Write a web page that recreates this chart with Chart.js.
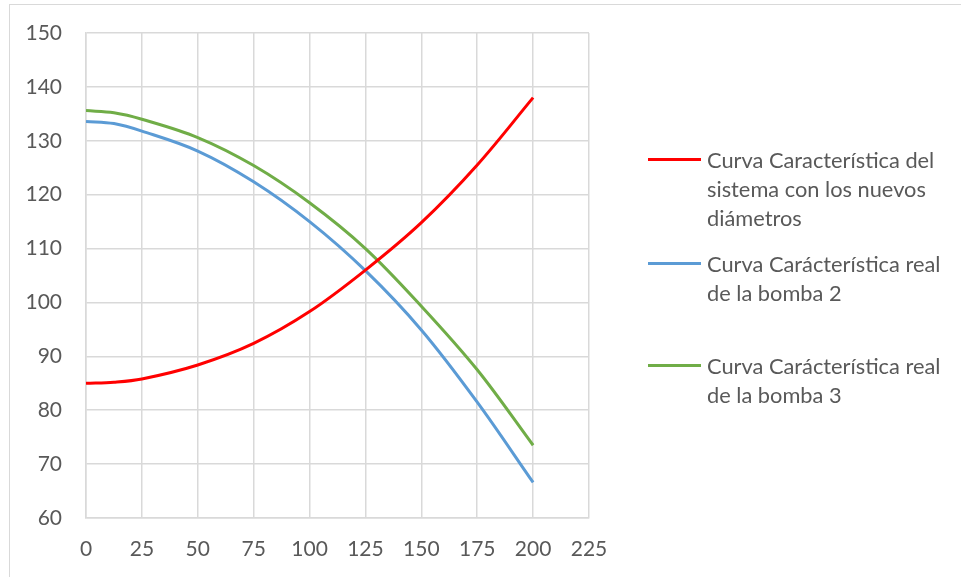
<!DOCTYPE html>
<html>
<head>
<meta charset="utf-8">
<script src="https://cdn.jsdelivr.net/npm/chart.js@4.4.0/dist/chart.umd.min.js"></script>
<style>
    html, body { margin: 0; padding: 0; background: #fff; }
    #wrap { position: relative; width: 961px; height: 577px; overflow: hidden; }
    #frame { position: absolute; left: 9px; top: 4px; width: 960px; height: 600px; border: 1px solid #d9d9d9; }
    canvas { position: absolute; left: 0; top: 0; }
    .leg { position: absolute; left: 648px; font-family: Lato, "Open Sans", sans-serif; font-size: 21.8px; line-height: 29px; color: #595959; white-space: nowrap; }
    .leg .sw { position: absolute; left: 0; top: 13px; width: 53px; height: 3px; }
    .leg .tx { margin-left: 59px; }
</style>
</head>
<body>
<div id="wrap">
    <div id="frame"></div>
    <canvas id="chart" width="961" height="577"></canvas>
    <div id="legend"></div>
</div>
<script>
    'use strict';

    // caudal (x) y altura (y)
    var caudal = [0, 12.5, 25, 50, 75, 100, 125, 150, 175, 200];
    var sistema = [85, 85.2, 85.8, 88.4, 92.4, 98.3, 106.0, 114.8, 125.5, 138];
    var bomba2 = [133.6, 133.2, 131.8, 128.1, 122.4, 115.0, 105.9, 94.9, 81.5, 66.6];
    var bomba3 = [135.6, 135.2, 134.0, 130.6, 125.4, 118.5, 110.0, 99.3, 87.5, 73.5];

    var xTicks = [0, 25, 50, 75, 100, 125, 150, 175, 200, 225];
    var yTicks = [60, 70, 80, 90, 100, 110, 120, 130, 140, 150];

    var series = [
        { label: ['Curva Característica del', 'sistema con los nuevos', 'diámetros'], data: sistema, color: '#ff0000', top: 145 },
        { label: ['Curva Carácterística real', 'de la bomba 2'], data: bomba2, color: '#5b9bd5', top: 249 },
        { label: ['Curva Carácterística real', 'de la bomba 3'], data: bomba3, color: '#70ad47', top: 351 }
    ];

    var toPoints = vals => vals.map((v, i) => ({ x: caudal[i], y: v }));

    var datasets = series.map(s => ({
        label: s.label.join(' '),
        data: toPoints(s.data),
        borderColor: s.color,
        backgroundColor: s.color,
        borderWidth: 3,
        pointRadius: 0,
        tension: 0.35,
        fill: false
    }));

    // leyenda en html para poder partir las lineas como en el original
    var legend = document.getElementById('legend');
    series.forEach(s => {
        var item = document.createElement('div');
        item.className = 'leg';
        item.style.top = s.top + 'px';
        item.innerHTML = '<div class="sw" style="background:' + s.color + '"></div><div class="tx">' + s.label.join('<br>') + '</div>';
        legend.appendChild(item);
    });

    var tickFont = { family: 'Lato, "Open Sans", sans-serif', size: 21 };
    var gridColor = '#d9d9d9';

    var chart = new Chart(document.getElementById('chart'), {
        type: 'line',
        data: { datasets: datasets },
        options: {
            responsive: false,
            animation: false,
            layout: { padding: { left: 0, right: 372, top: 33, bottom: 0 } },
            plugins: { legend: { display: false }, tooltip: { enabled: false } },
            scales: {
                x: {
                    type: 'linear',
                    min: 0,
                    max: 225,
                    afterBuildTicks: scale => { scale.ticks = xTicks.map(v => ({ value: v })); },
                    afterFit: scale => {
                        scale.height = 59;
                        scale.paddingLeft = 0;
                        scale.paddingRight = 0;
                    },
                    grid: { color: gridColor, lineWidth: 1.5, drawTicks: false },
                    border: { color: gridColor, width: 1.5 },
                    ticks: { font: tickFont, color: '#595959', padding: 19, maxRotation: 0 }
                },
                y: {
                    min: 60,
                    max: 150,
                    afterBuildTicks: scale => { scale.ticks = yTicks.map(v => ({ value: v })); },
                    afterFit: scale => {
                        scale.width = 86;
                        scale.paddingTop = 0;
                        scale.paddingBottom = 0;
                    },
                    grid: { color: gridColor, lineWidth: 1.5, drawTicks: false },
                    border: { color: gridColor, width: 1.5 },
                    ticks: { font: tickFont, color: '#595959', padding: 24 }
                }
            }
        }
    });
</script>
</body>
</html>
